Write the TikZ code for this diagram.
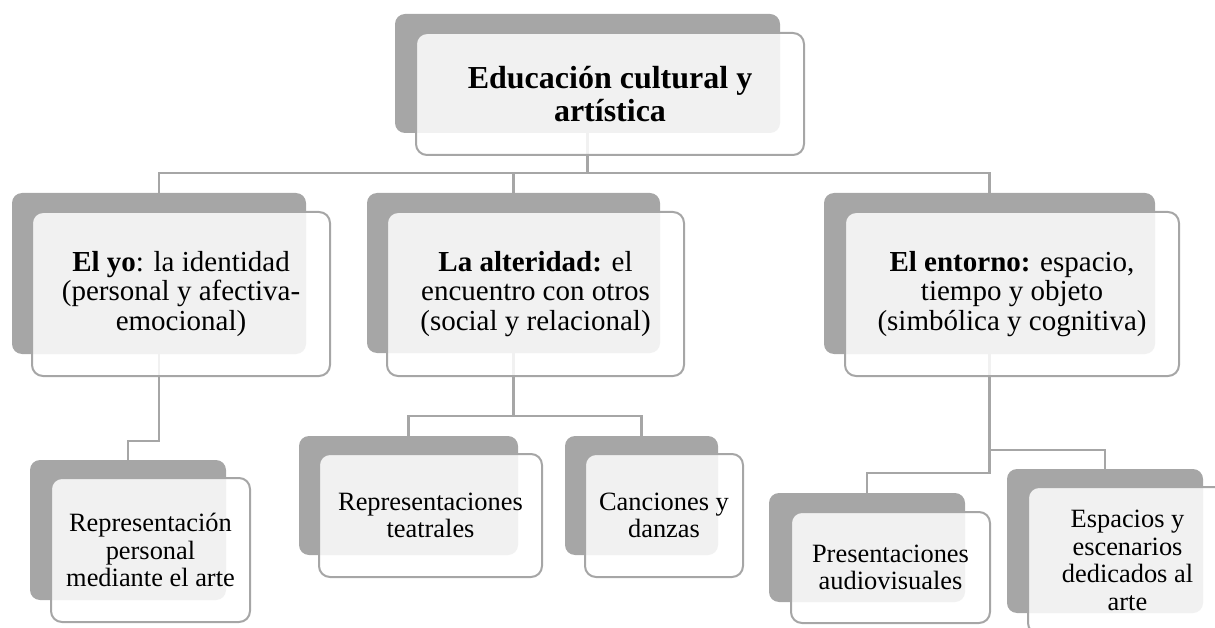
\documentclass[tikz,border=0pt]{standalone}
\usepackage{fontspec}
\setmainfont{Liberation Serif}
\definecolor{boxgray}{HTML}{A6A6A6}
\tikzset{
  back/.style={fill=boxgray, rounded corners=10pt, inner sep=0pt, outer sep=0pt},
  front/.style={draw=boxgray, line width=2pt, fill=white, fill opacity=0.85,
    text opacity=1, rounded corners=11pt, inner sep=0pt, outer sep=0pt, align=center},
  topfont/.style={font=\fontsize{32}{33}\selectfont},
  midfont/.style={font=\fontsize{29}{29.5}\selectfont},
  lowfont/.style={font=\fontsize{26.4}{27.5}\selectfont},
  link/.style={draw=boxgray, line width=2.3pt}
}
\begin{document}
\begin{tikzpicture}[x=1pt,y=-1pt]
  \useasboundingbox (0,0) rectangle (1215,628);
  % back boxes
  \path
    (587.5,73.5) node[back, minimum width=385, minimum height=119] (b0){}
    (159,273.5) node[back, minimum width=294, minimum height=161] (b1){}
    (513.5,273) node[back, minimum width=293, minimum height=160] (b2){}
    (989.5,273.5) node[back, minimum width=331, minimum height=161] (b3){}
    (128,530) node[back, minimum width=196, minimum height=140] (b4){}
    (408.5,495.5) node[back, minimum width=219, minimum height=119] (b5){}
    (641.5,495.5) node[back, minimum width=153, minimum height=119] (b6){}
    (867,547.5) node[back, minimum width=196, minimum height=109] (b7){}
    (1105,541) node[back, minimum width=196, minimum height=144] (b8){};
  % connectors
  \begin{scope}[link]
    \draw (b0.south) -- ++(0,40) -| (b1.north);
    \draw (b0.south) -- ++(0,40) -| (b2.north);
    \draw (b0.south) -- ++(0,40) -| (b3.north);
    \draw (b1.south) -- ++(0,87) -| (b4.north);
    \draw (b2.south) -- ++(0,63) -| (b5.north);
    \draw (b2.south) -- ++(0,63) -| (b6.north);
    \draw (b3.south) -- ++(0,119) -| (b7.north);
    \draw (b3.south) -- ++(0,96) -| (b8.north);
  \end{scope}
  % front boxes
  \path
    (610,94) node[front, topfont, minimum width=388, minimum height=122] (f0)
      {\textbf{Educación cultural y}\\\textbf{artística}}
    (181,294) node[front, midfont, minimum width=298, minimum height=164] (f1)
      {\textbf{El yo}: la identidad\\(personal y afectiva-\\emocional)}
    (535.5,294) node[front, midfont, minimum width=297, minimum height=164] (f2)
      {\textbf{La alteridad:} el\\encuentro con otros\\(social y relacional)}
    (1012,294) node[front, midfont, minimum width=334, minimum height=164] (f3)
      {\textbf{El entorno:} espacio,\\tiempo y objeto\\(simbólica y cognitiva)}
    (150.5,550) node[front, lowfont, minimum width=199, minimum height=144] (f4)
      {Representación\\personal\\mediante el arte}
    (430.5,515.5) node[front, lowfont, minimum width=223, minimum height=123] (f5)
      {Representaciones\\teatrales}
    (664,515.5) node[front, lowfont, minimum width=158, minimum height=123] (f6)
      {Canciones y\\danzas}
    (890.5,567.5) node[front, lowfont, minimum width=199, minimum height=111] (f7)
      {Presentaciones\\audiovisuales}
    (1127.5,560.5) node[front, lowfont, minimum width=199, minimum height=147] (f8)
      {Espacios y\\escenarios\\dedicados al\\arte};
\end{tikzpicture}
\end{document}
